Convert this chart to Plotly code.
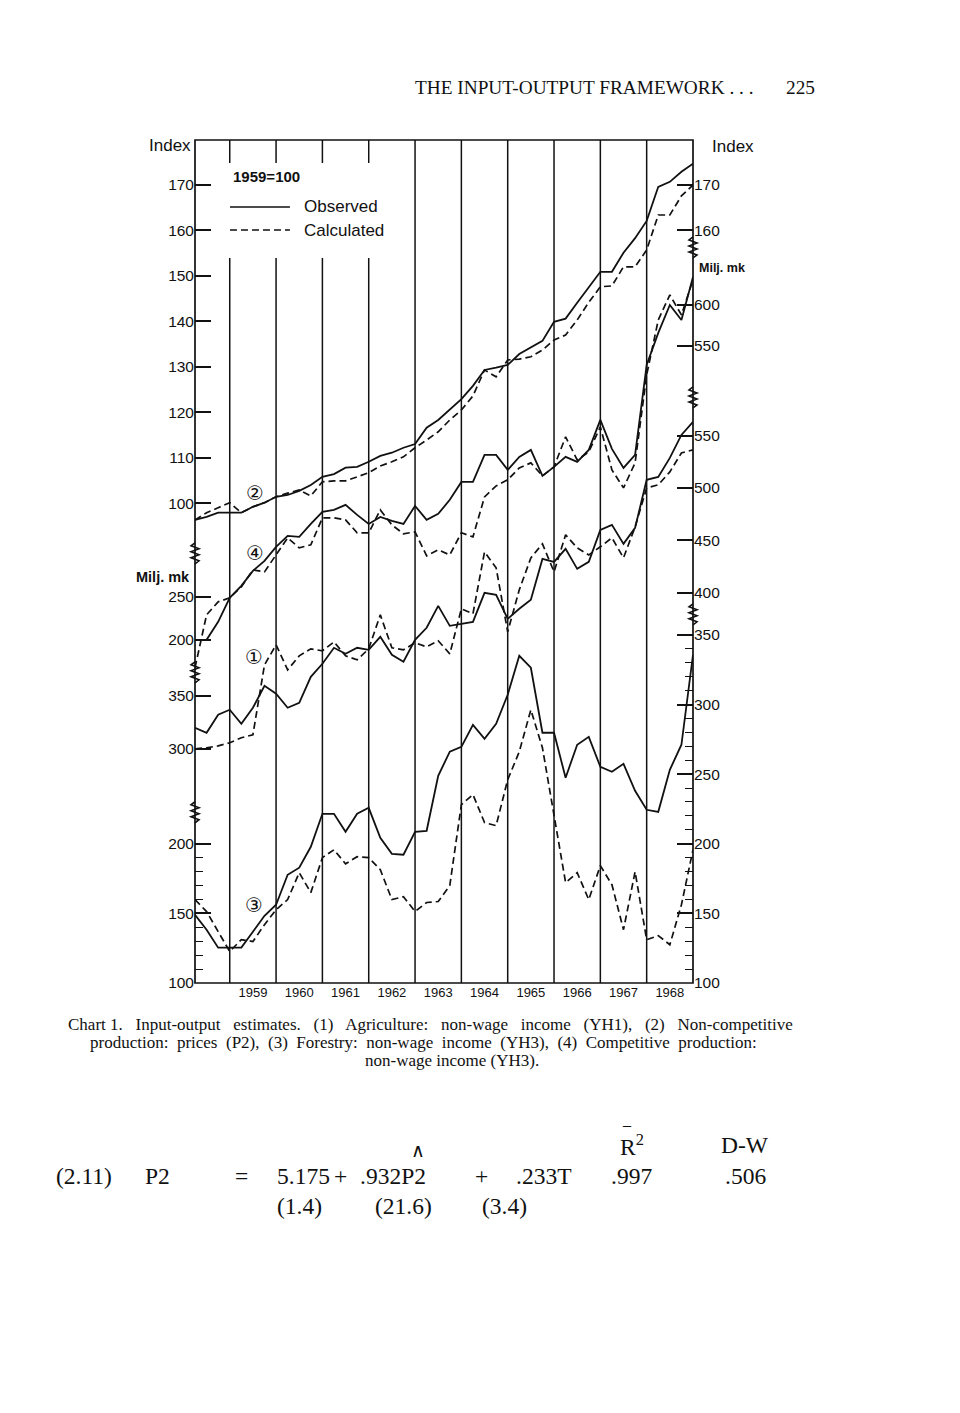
import plotly.graph_objects as go

# ---------------- data (quarterly, 1958Q1 .. 1968Q4, plotted at quarter end) ----------------
YEARS = list(range(1958, 1969))
QUARTERS = [1, 2, 3, 4]
period_x = [y + q / 4 for y in YEARS for q in QUARTERS]

# (2) Non-competitive production: prices P2, index 1959=100
P2_obs = [96.3, 97.0, 97.9, 97.9, 97.9, 99.2, 100.1, 101.4, 101.8, 102.7, 104.0, 105.8,
          106.4, 107.8, 108.0, 109.1, 110.4, 111.1, 112.2, 113.0, 116.6, 118.3, 120.5, 122.9,
          125.8, 129.3, 129.8, 130.4, 132.8, 134.2, 135.7, 139.9, 140.6, 144.1, 147.6, 150.9,
          150.9, 155.1, 158.3, 162.1, 169.6, 170.7, 172.9, 174.7]
P2_calc = [96.3, 97.9, 99.0, 100.1, 97.9, 99.2, 100.1, 101.4, 102.2, 102.9, 101.6, 104.7,
           104.9, 104.9, 105.8, 106.7, 108.2, 109.1, 110.2, 112.2, 113.9, 115.7, 118.3, 120.5,
           123.6, 129.3, 127.8, 131.5, 131.7, 132.2, 133.7, 135.9, 137.0, 140.3, 144.2, 147.6,
           147.8, 152.0, 152.0, 155.7, 163.4, 163.4, 167.6, 170.0]

# (4) Competitive production: non-wage income, Milj. mk
CP_obs = [200.0, 200.0, 220.8, 248.5, 262.4, 279.7, 291.2, 307.4, 320.1, 318.9, 333.9, 347.8,
          350.1, 355.9, 344.3, 333.9, 342.0, 337.4, 333.9, 354.7, 338.6, 345.5, 361.7, 382.4,
          382.4, 413.6, 413.6, 396.3, 411.3, 419.4, 389.4, 399.8, 411.3, 405.5, 419.4, 454.1,
          420.6, 398.6, 413.6, 517.5, 554.5, 586.8, 569.5, 619.2]
CP_calc = [167.7, 228.9, 243.9, 248.5, 261.2, 280.8, 278.5, 298.1, 317.8, 306.2, 309.7, 340.9,
           340.9, 338.6, 323.6, 323.6, 350.1, 332.8, 322.4, 324.7, 297.0, 303.9, 298.1, 323.6,
           318.9, 365.1, 377.8, 384.8, 398.6, 404.4, 389.4, 399.8, 434.4, 407.8, 417.1, 446.0,
           396.3, 375.5, 404.4, 506.0, 569.5, 598.4, 575.3, 615.7]

# (1) Agriculture: non-wage income YH1, Milj. mk
YH1_obs = [319.8, 315.1, 332.1, 336.8, 323.6, 338.7, 359.4, 351.9, 338.7, 343.4, 367.9, 380.2,
           395.3, 389.6, 395.3, 393.4, 405.7, 388.7, 382.1, 402.8, 414.2, 434.9, 416.0, 417.9,
           419.8, 447.2, 445.3, 422.6, 432.1, 440.6, 479.2, 476.4, 488.7, 469.8, 476.4, 506.6,
           511.3, 493.4, 508.5, 553.8, 556.6, 574.5, 596.2, 608.5]
YH1_calc = [300.0, 300.9, 302.8, 305.7, 310.4, 313.2, 379.2, 398.1, 374.5, 387.7, 394.3, 392.5,
            400.9, 387.7, 384.0, 394.3, 426.4, 395.3, 393.4, 400.0, 396.2, 401.9, 389.6, 432.1,
            427.4, 485.8, 470.8, 410.4, 450.0, 480.2, 493.4, 467.0, 501.9, 489.6, 483.0, 490.6,
            499.1, 480.2, 509.4, 546.2, 549.1, 561.3, 579.2, 582.1]

# (3) Forestry: non-wage income YH3, Milj. mk
YH3_obs = [149.0, 138.3, 125.4, 125.4, 125.4, 136.8, 148.3, 156.2, 177.7, 182.8, 197.8, 221.5,
           221.5, 208.6, 221.5, 225.8, 204.3, 192.8, 192.1, 208.6, 209.3, 248.8, 266.1, 269.6,
           285.4, 275.4, 286.2, 307.0, 335.0, 326.4, 279.7, 279.7, 247.4, 271.1, 276.8, 255.3,
           251.7, 257.4, 238.0, 224.4, 222.9, 253.1, 271.1, 335.7]
YH3_calc = [159.9, 151.3, 136.9, 122.6, 131.2, 129.8, 141.9, 152.6, 159.9, 179.2, 164.9, 190.0,
            195.7, 185.6, 190.7, 190.0, 181.4, 159.9, 162.0, 151.3, 157.8, 158.5, 170.0, 228.1,
            235.3, 215.2, 213.0, 246.0, 266.1, 296.2, 268.9, 220.8, 172.1, 179.2, 159.9, 184.3,
            170.6, 138.3, 179.9, 131.1, 134.0, 127.5, 156.2, 195.7]

YEAR_LABELS = [str(y) for y in range(1959, 1969)]
LEFT_INDEX_TICKS = [100, 110, 120, 130, 140, 150, 160, 170]
LEFT_CP_TICKS = [200, 250]
LEFT_YH1_TICKS = [300, 350]
LEFT_YH3_TICKS = [100, 150, 200]
RIGHT_INDEX_TICKS = [160, 170]
RIGHT_TOP_MK_TICKS = [550, 600]
RIGHT_MID_MK_TICKS = [400, 450, 500, 550]
RIGHT_YH3_TICKS = [100, 150, 200, 250, 300, 350]

# ---------------- geometry ----------------
W, H = 960, 1413
L, R, T, B = 195, 693.3, 140, 983.3


def fx(px):
    return (px - L) / (R - L)


def fy(py):
    return (B - py) / (B - T)


def yrange(v0, p0, s):
    """axis range such that value v0 sits at pixel row p0, s pixels per unit"""
    return [v0 - (B - p0) / s, v0 + (p0 - T) / s]


SCALE_A = (100, 503.3, 4.547)   # index
SCALE_B = (200, 640.0, 0.866)   # competitive production (left)
SCALE_C = (300, 749.0, 1.06)    # agriculture
SCALE_D = (100, 983.3, 1.393)   # forestry
SCALE_E = (550, 346.0, 0.82)    # right, top Milj. mk
SCALE_F = (400, 592.7, 1.0467)  # right, middle Milj. mk

INK = '#111111'
SANS = 'Liberation Sans, Arial, Helvetica, sans-serif'
SERIF = 'Liberation Serif, Times New Roman, serif'

fig = go.Figure()

solid = dict(color=INK, width=1.8)
dashed = dict(color=INK, width=1.7, dash='7px,4px')

series = [
    (P2_obs, P2_calc, 'y'),
    (CP_obs, CP_calc, 'y2'),
    (YH1_obs, YH1_calc, 'y3'),
    (YH3_obs, YH3_calc, 'y4'),
]
for obs, calc, ax in series:
    fig.add_trace(go.Scatter(x=period_x, y=calc, yaxis=ax, mode='lines', line=dashed,
                             hoverinfo='skip', showlegend=False))
    fig.add_trace(go.Scatter(x=period_x, y=obs, yaxis=ax, mode='lines', line=solid,
                             hoverinfo='skip', showlegend=False))

# the right-hand scales carry no series of their own; attach an invisible
# anchor trace so that plotly draws their ticks and labels
for ax, vals in [('y5', RIGHT_INDEX_TICKS), ('y6', RIGHT_TOP_MK_TICKS),
                 ('y7', RIGHT_MID_MK_TICKS), ('y8', RIGHT_YH3_TICKS)]:
    fig.add_trace(go.Scatter(x=[period_x[0]], y=[vals[0]], yaxis=ax, mode='markers',
                             marker=dict(opacity=0, size=1), hoverinfo='skip',
                             showlegend=False))

tickfont = dict(family=SANS, size=15.5, color=INK)


def yax(scale, side, vals, minor=None, overlay=True):
    d = dict(range=yrange(*scale), side=side, anchor='x', showgrid=False, zeroline=False,
             showline=False, ticks='inside', ticklen=16, tickwidth=1.7, tickcolor=INK,
             tickfont=tickfont, tickmode='array', tickvals=vals,
             ticktext=[str(v) for v in vals], fixedrange=True, autorange=False)
    if overlay:
        d['overlaying'] = 'y'
    if minor is not None:
        d['minor'] = dict(tickmode='array', tickvals=minor, ticks='inside', ticklen=8,
                          tickwidth=1.4, tickcolor=INK, showgrid=False)
    return d


left_minor_d = [110, 120, 130, 140, 160, 170, 180, 190]
right_minor_d = [v for v in range(110, 350, 10) if v % 50 != 0]

fig.update_layout(
    width=W, height=H,
    margin=dict(l=L, r=W - R, t=T, b=H - B, pad=0),
    paper_bgcolor='white', plot_bgcolor='white',
    showlegend=False,
    xaxis=dict(range=[1958.25, 1969.0], showgrid=False, zeroline=False, showline=False,
               tickmode='array', tickvals=[y + 0.5 for y in range(1959, 1969)],
               ticktext=YEAR_LABELS, ticks='', tickfont=dict(family=SANS, size=13, color=INK),
               fixedrange=True),
    yaxis=yax(SCALE_A, 'left', LEFT_INDEX_TICKS, overlay=False),
    yaxis2=yax(SCALE_B, 'left', LEFT_CP_TICKS),
    yaxis3=yax(SCALE_C, 'left', LEFT_YH1_TICKS),
    yaxis4=yax(SCALE_D, 'left', LEFT_YH3_TICKS, minor=left_minor_d),
    yaxis5=yax(SCALE_A, 'right', RIGHT_INDEX_TICKS),
    yaxis6=yax(SCALE_E, 'right', RIGHT_TOP_MK_TICKS),
    yaxis7=yax(SCALE_F, 'right', RIGHT_MID_MK_TICKS),
    yaxis8=yax(SCALE_D, 'right', RIGHT_YH3_TICKS, minor=right_minor_d),
)

shapes = []
# frame
shapes.append(dict(type='rect', xref='paper', yref='paper', x0=0, x1=1, y0=0, y1=1,
                   line=dict(color=INK, width=1.7), layer='above'))
# year boundary lines (broken behind the key for the first four)
for yr in range(1959, 1969):
    if yr <= 1962:
        segs = [(0, fy(258)), (fy(163), 1)]
    else:
        segs = [(0, 1)]
    for a, b in segs:
        shapes.append(dict(type='line', xref='x', yref='paper', x0=yr, x1=yr, y0=a, y1=b,
                           line=dict(color=INK, width=1.5), layer='below'))
# key lines
shapes.append(dict(type='line', xref='paper', yref='paper', x0=fx(230), x1=fx(290),
                   y0=fy(207), y1=fy(207), line=dict(color=INK, width=1.6)))
shapes.append(dict(type='line', xref='paper', yref='paper', x0=fx(230), x1=fx(290),
                   y0=fy(230), y1=fy(230), line=dict(color=INK, width=1.6, dash='7px,4px')))
# axis break zigzags
zig = 'M0,-11 L4,-8 L-4,-5 L4,-2 L-4,1 L4,4 L-4,7 L0,10'
for side, py in [(0, 553), (0, 672), (0, 812), (1, 247), (1, 397), (1, 614)]:
    shapes.append(dict(type='path', xref='paper', yref='paper', xsizemode='pixel',
                       ysizemode='pixel', xanchor=side, yanchor=fy(py), path=zig,
                       line=dict(color=INK, width=1.6), layer='above'))
fig.update_layout(shapes=shapes)

ann = []


def text(s, px, py, size, family=SANS, xanchor='left', yanchor='middle', bold=False):
    if bold:
        s = '<b>' + s + '</b>'
    ann.append(dict(text=s, x=fx(px), y=fy(py), xref='paper', yref='paper', showarrow=False,
                    xanchor=xanchor, yanchor=yanchor,
                    font=dict(family=family, size=size, color=INK)))


text('Index', 193, 146, 17, xanchor='right')
text('Index', 710, 147, 17)
text('Milj. mk', 192, 577, 14.5, xanchor='right', bold=True)
text('Milj. mk', 697, 268, 12.5, bold=True)
text('1959=100', 231, 177, 15, bold=True)
text('Observed', 302, 207, 17)
text('Calculated', 302, 231, 17)
CIRC = 'DejaVu Sans, Noto Sans CJK JP, sans-serif'
text('②', 255, 493, 20, family=CIRC, xanchor='center')
text('④', 255, 553, 20, family=CIRC, xanchor='center')
text('①', 254, 657, 20, family=CIRC, xanchor='center')
text('③', 254, 905, 20, family=CIRC, xanchor='center')

# page header
text('THE INPUT-OUTPUT FRAMEWORK . . .', 413, 87, 19.3, family=SERIF)
text('225', 817, 87, 19.3, family=SERIF, xanchor='right')

# caption (justified setting imitated with wider word spacing)
CAP = 17
line1 = '   '.join(['Chart 1.', 'Input-output', 'estimates.', '(1)', 'Agriculture:',
                    'non-wage', 'income', '(YH1),', '(2)', 'Non-competitive'])
line2 = '  '.join(['production:', 'prices', '(P2),', '(3)', 'Forestry:', 'non-wage',
                   'income', '(YH3),', '(4)', 'Competitive', 'production:'])
text(line1, 66, 1024.5, CAP, family=SERIF)
text(line2, 88, 1042.5, CAP, family=SERIF)
text('non-wage income (YH3).', 452, 1060.5, CAP, family=SERIF, xanchor='center')

# regression equation
EQ = 23.5
text('R<sup>2</sup>', 618, 1145, EQ, family=SERIF)
text('\u2013', 627, 1125, 16, family=SERIF, xanchor='center')
text('D-W', 719, 1145, EQ, family=SERIF)
text('(2.11)', 114, 1176, EQ, family=SERIF, xanchor='right')
text('P2', 143, 1176, EQ, family=SERIF)
text('=', 242, 1176, EQ, family=SERIF, xanchor='center')
text('5.175', 275, 1176, EQ, family=SERIF)
text('+', 341, 1176, EQ, family=SERIF, xanchor='center')
text('.932P2', 358, 1176, EQ, family=SERIF)
text('\u2227', 418, 1151, 19, family=SERIF, xanchor='center')
text('+', 482, 1176, EQ, family=SERIF, xanchor='center')
text('.233T', 514, 1176, EQ, family=SERIF)
text('.997', 609, 1176, EQ, family=SERIF)
text('.506', 723, 1176, EQ, family=SERIF)
text('(1.4)', 275, 1206, EQ, family=SERIF)
text('(21.6)', 373, 1206, EQ, family=SERIF)
text('(3.4)', 480, 1206, EQ, family=SERIF)

fig.update_layout(annotations=ann)

fig.write_html('out.html')
